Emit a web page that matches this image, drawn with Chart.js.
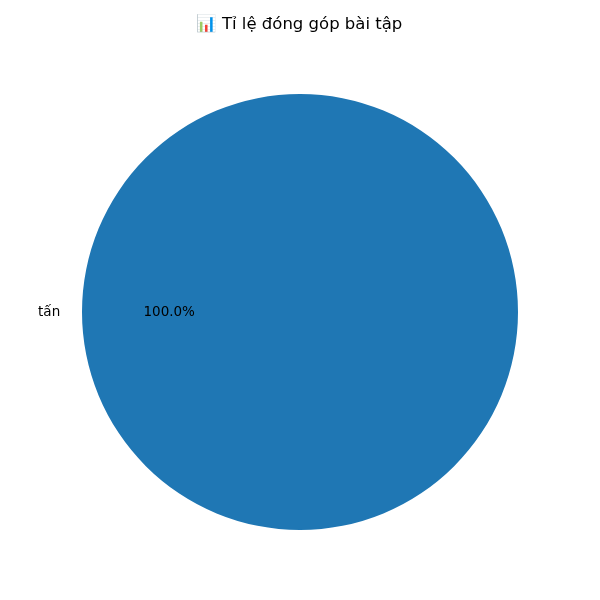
<!DOCTYPE html>
<html>
<head>
<meta charset="utf-8">
<script src="https://cdn.jsdelivr.net/npm/chart.js@4"></script>
<style>
  html, body { margin: 0; padding: 0; background: #fff; }
  #wrap { width: 600px; height: 600px; }
</style>
</head>
<body>
<div id="wrap"><canvas id="chartDonggop" width="600" height="600"></canvas></div>
<script>
const tieuDe = '📊 Tỉ lệ đóng góp bài tập';
const thanhVien = ['tấn'];
const soBai = [1];
const mauSac = ['#1f77b4'];

const font = '"DejaVu Sans", sans-serif';

// ve tieu de + nhan nhu matplotlib
const nhanPlugin = {
  id: 'nhanPlugin',
  afterDraw(chart) {
    const ctx = chart.ctx;
    ctx.save();
    ctx.fillStyle = '#000';
    ctx.textBaseline = 'middle';
    ctx.font = '16.5px ' + font;
    ctx.textAlign = 'center';
    ctx.fillText(tieuDe, 299, 25);

    const tong = soBai.reduce((a, b) => a + b, 0);
    const meta = chart.getDatasetMeta(0);
    ctx.font = '13.5px ' + font;
    meta.data.forEach((arc, i) => {
      const p = arc.getProps(['x', 'y', 'startAngle', 'endAngle', 'outerRadius'], true);
      const giua = (p.startAngle + p.endAngle) / 2;
      const cx = Math.cos(giua), cy = Math.sin(giua);
      // ten o 1.1 r
      ctx.textAlign = cx < 0 ? 'right' : 'left';
      ctx.fillText(thanhVien[i], p.x + cx * p.outerRadius * 1.1, p.y + cy * p.outerRadius * 1.1);
      // phan tram o 0.6 r
      ctx.textAlign = 'center';
      const pt = (soBai[i] / tong * 100).toFixed(1) + '%';
      ctx.fillText(pt, p.x + cx * p.outerRadius * 0.6, p.y + cy * p.outerRadius * 0.6);
    });
    ctx.restore();
  }
};

new Chart(document.getElementById('chartDonggop'), {
  type: 'pie',
  data: {
    labels: thanhVien,
    datasets: [{
      data: soBai,
      backgroundColor: mauSac,
      borderWidth: 0
    }]
  },
  options: {
    responsive: false,
    animation: false,
    rotation: 90,
    layout: { padding: { top: 94, bottom: 70, left: 82, right: 82 } },
    plugins: {
      legend: { display: false },
      tooltip: { enabled: false },
      title: { display: false }
    }
  },
  plugins: [nhanPlugin]
});
</script>
</body>
</html>
